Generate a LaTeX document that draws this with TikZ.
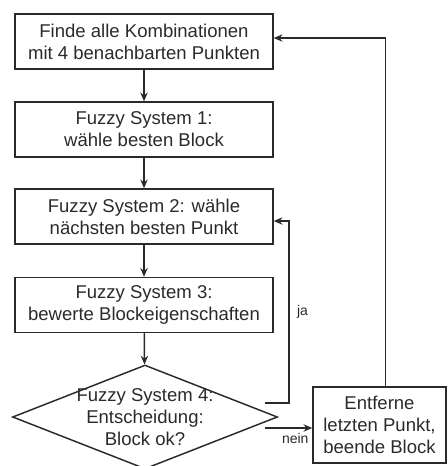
\documentclass[tikz,border=0pt]{standalone}
\usepackage{fontspec}
\setmainfont{Liberation Sans}
\usetikzlibrary{shapes.geometric, arrows.meta}

\definecolor{linegray}{HTML}{2A2A2A}
\newcommand{\boxfont}{\fontsize{13.9}{16.5}\selectfont}
\newcommand{\tagfont}{\fontsize{10.5}{12}\selectfont}

\tikzset{
  box/.style={draw=linegray, line width=1.1pt, minimum width=193.5pt,
    minimum height=41.25pt, align=center, font=\boxfont, text=linegray},
  decision/.style={draw=linegray, line width=1.1pt, diamond, inner sep=0pt,
    minimum width=198.75pt, minimum height=78pt},
  flow/.style={->, line width=1.1pt, draw=linegray},
  tag/.style={font=\tagfont, text=linegray, inner sep=1.5pt}
}

\begin{document}
\begin{tikzpicture}[x=0.75pt, y=-0.75pt, >={Stealth[length=6.5pt, width=5.5pt]}]

  \useasboundingbox (0,0) rectangle (448,466);

  % ── main column ──────────────────────────────────────────────────────────
  \node[box] (find) at (144,41.5) {Finde alle Kombinationen\\mit 4 benachbarten Punkten};
  \node[box] (fs1)  at (144,129.5) {Fuzzy System 1:\\wähle besten Block};
  \node[box] (fs2)  at (144,216.5) {Fuzzy System 2: wähle\\nächsten besten Punkt};
  \node[box] (fs3)  at (144,305) {Fuzzy System 3:\\bewerte Blockeigenschaften};
  \node[decision, label={[font=\boxfont, text=linegray, align=center]center:{Fuzzy System 4:\\Entscheidung:\\Block ok?}}]
    (fs4) at (145,417) {};

  % ── side box ─────────────────────────────────────────────────────────────
  \node[box, minimum width=99.75pt, minimum height=57pt] (remove) at (379.5,425)
    {Entferne\\letzten Punkt,\\beende Block};

  % ── connectors ───────────────────────────────────────────────────────────
  \draw[flow] (find) -- (fs1);
  \draw[flow] (fs1) -- (fs2);
  \draw[flow] (fs2) -- (fs3);
  \draw[flow] (fs3) -- (fs4);

  \coordinate (jaout) at (265,403);
  \coordinate (neinout) at (265,428);

  \draw[flow] (jaout) -- (289,403) |- node[pos=0.25, right, tag, xshift=4pt] {ja} ([yshift=-3.4pt]fs2.east);
  \draw[flow] (neinout) -- (neinout -| remove.west)
    node[pos=0.64, below, tag, yshift=-2pt] {nein};
  \draw[flow] ([xshift=4.5pt]remove.north) |- ([yshift=2.6pt]find.east);

\end{tikzpicture}
\end{document}
